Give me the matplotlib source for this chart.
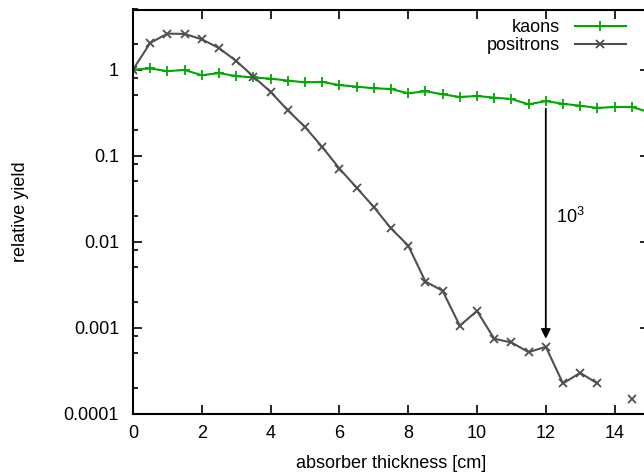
import matplotlib.pyplot as plt
import numpy as np
from matplotlib.ticker import LogLocator, NullFormatter, FixedLocator

plt.rcParams['font.family'] = ['Liberation Sans', 'DejaVu Sans']

# absorber thickness steps [cm]
x = np.arange(0, 15.01, 0.5)

kaons = [1.0, 1.03, 0.96, 0.99, 0.86, 0.91, 0.84, 0.81, 0.785, 0.745, 0.71,
         0.72, 0.66, 0.634, 0.606, 0.595, 0.53, 0.56, 0.516, 0.48, 0.493,
         0.472, 0.455, 0.395, 0.43, 0.40, 0.38, 0.358, 0.368, 0.368, 0.32]

positrons = [1.0, 2.04, 2.62, 2.6, 2.25, 1.78, 1.26, 0.83, 0.55, 0.336, 0.215,
             0.126, 0.0706, 0.0424, 0.0252, 0.0142, 0.00898, 0.00343, 0.00267,
             0.00105, 0.00156, 0.00074, 0.00067, 0.000517, 0.000596, 0.000224,
             0.000297, 0.000224, np.nan, 0.000146, np.nan]

arrow_x = 12
arrow_top = 0.352
arrow_tip = 0.00074

fig = plt.figure(figsize=(6.44, 4.75), dpi=100)
ax = fig.add_axes([133/644, 61.5/475, 516/644, 404/475])

ax.plot(x, kaons, color='#00a800', lw=1.5, marker='+', ms=7, mew=1.3,
        label='kaons')
ax.plot(x, positrons, color='#505050', lw=1.5, marker='x', ms=5.5, mew=1.3,
        label='positrons')

ax.annotate('', xy=(arrow_x, arrow_tip), xytext=(arrow_x, arrow_top),
            arrowprops=dict(arrowstyle='-|>', color='black', lw=1.3,
                            mutation_scale=14, shrinkA=0, shrinkB=0))
ax.text(12.3, 0.0194, '$\\mathregular{10^3}$', fontsize=13, va='center', ha='left')

ax.set_yscale('log')
ax.set_xlim(0, 15)
ax.set_ylim(1e-4, 5)
ax.set_xticks(np.arange(0, 15, 2))
ax.yaxis.set_major_locator(FixedLocator([1e-4, 1e-3, 1e-2, 1e-1, 1]))
ax.set_yticklabels(['0.0001', '0.001', '0.01', '0.1', '1'])
ax.yaxis.set_minor_locator(LogLocator(base=10, subs=(2, 5, 8)))
ax.yaxis.set_minor_formatter(NullFormatter())

ax.tick_params(which='both', direction='in', top=True, right=True,
               labelsize=13, width=1.2)
ax.tick_params(axis='x', which='major', length=6.5, pad=8.5)
ax.tick_params(axis='y', which='major', length=6.5, pad=10)
ax.tick_params(which='minor', length=3.5)
for s in ax.spines.values():
    s.set_linewidth(1.5)

ax.set_xlabel('absorber thickness [cm]', fontsize=13, labelpad=9)
ax.set_ylabel('relative yield', fontsize=13)
ax.yaxis.set_label_coords(-0.201, 0.5)

ax.legend(loc='upper right', bbox_to_anchor=(0.975, 1.0), frameon=False,
          markerfirst=False, fontsize=13, handlelength=2.85, handletextpad=0.8,
          labelspacing=0.05, borderaxespad=0.15)

fig.savefig('out.png', dpi=100)
